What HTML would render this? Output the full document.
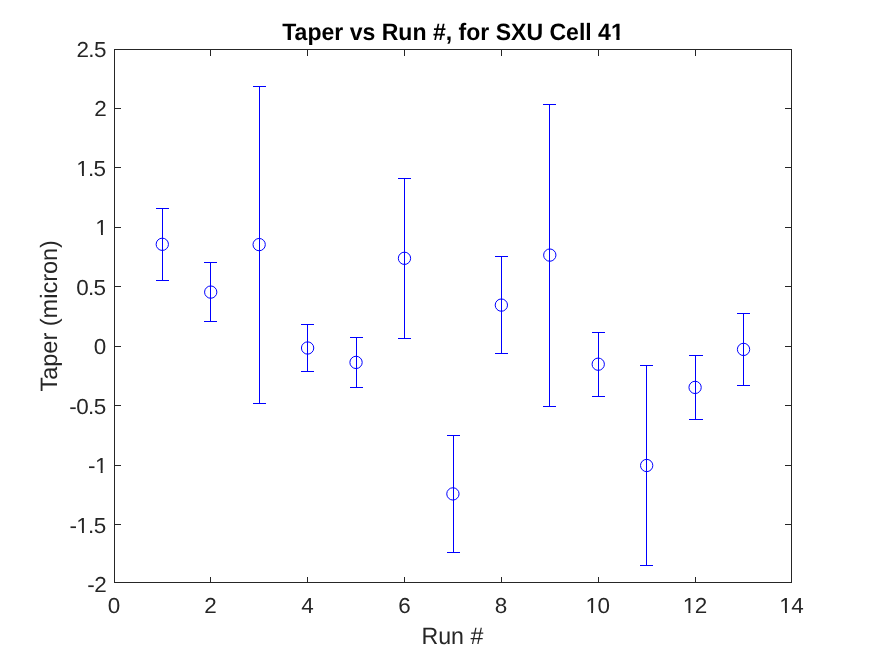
<!DOCTYPE html>
<html><head><meta charset="utf-8"><title>Taper vs Run #</title>
<style>
html,body{margin:0;padding:0;background:#fff;}
body{width:875px;height:656px;overflow:hidden;}
svg{display:block;}
text{font-family:"Liberation Sans",Arial,Helvetica,sans-serif;fill:#262626;text-rendering:geometricPrecision;}
.tt{font-weight:bold;fill:#000;}
</style></head><body>
<svg width="875" height="656" viewBox="0 0 875 656">
<rect width="875" height="656" fill="#fff"/>

<g fill="#262626" shape-rendering="crispEdges">
<rect x="114" y="49" width="678" height="1"/><rect x="114" y="582" width="678" height="1"/>
<rect x="114" y="49" width="1" height="534"/><rect x="791" y="49" width="1" height="534"/>
<rect x="210" y="577" width="1" height="6"/><rect x="210" y="49" width="1" height="7"/>
<rect x="307" y="577" width="1" height="6"/><rect x="307" y="49" width="1" height="7"/>
<rect x="404" y="577" width="1" height="6"/><rect x="404" y="49" width="1" height="7"/>
<rect x="501" y="577" width="1" height="6"/><rect x="501" y="49" width="1" height="7"/>
<rect x="598" y="577" width="1" height="6"/><rect x="598" y="49" width="1" height="7"/>
<rect x="695" y="577" width="1" height="6"/><rect x="695" y="49" width="1" height="7"/>
<rect x="114" y="108" width="7" height="1"/><rect x="785" y="108" width="7" height="1"/>
<rect x="114" y="167" width="7" height="1"/><rect x="785" y="167" width="7" height="1"/>
<rect x="114" y="227" width="7" height="1"/><rect x="785" y="227" width="7" height="1"/>
<rect x="114" y="286" width="7" height="1"/><rect x="785" y="286" width="7" height="1"/>
<rect x="114" y="346" width="7" height="1"/><rect x="785" y="346" width="7" height="1"/>
<rect x="114" y="405" width="7" height="1"/><rect x="785" y="405" width="7" height="1"/>
<rect x="114" y="465" width="7" height="1"/><rect x="785" y="465" width="7" height="1"/>
<rect x="114" y="524" width="7" height="1"/><rect x="785" y="524" width="7" height="1"/>
</g>
<g stroke="#0000ff" stroke-width="1" fill="none">
<path d="M162.5 208.5V280.5M156.0 208.5H169.0M156.0 280.5H169.0" shape-rendering="crispEdges"/>
<circle cx="162.29" cy="244.3" r="6.15"/>
<path d="M210.5 262.5V321.5M204.0 262.5H217.0M204.0 321.5H217.0" shape-rendering="crispEdges"/>
<circle cx="210.72" cy="292.1" r="6.15"/>
<path d="M259.5 86.5V403.5M253.0 86.5H266.0M253.0 403.5H266.0" shape-rendering="crispEdges"/>
<circle cx="259.16" cy="244.6" r="6.15"/>
<path d="M307.5 324.5V371.5M301.0 324.5H314.0M301.0 371.5H314.0" shape-rendering="crispEdges"/>
<circle cx="307.6" cy="348.0" r="6.15"/>
<path d="M356.5 337.5V387.5M350.0 337.5H363.0M350.0 387.5H363.0" shape-rendering="crispEdges"/>
<circle cx="356.04" cy="362.4" r="6.15"/>
<path d="M404.5 178.5V338.5M398.0 178.5H411.0M398.0 338.5H411.0" shape-rendering="crispEdges"/>
<circle cx="404.48" cy="258.3" r="6.15"/>
<path d="M453.5 435.5V552.5M447.0 435.5H460.0M447.0 552.5H460.0" shape-rendering="crispEdges"/>
<circle cx="452.91" cy="493.9" r="6.15"/>
<path d="M501.5 256.5V353.5M495.0 256.5H508.0M495.0 353.5H508.0" shape-rendering="crispEdges"/>
<circle cx="501.35" cy="305.1" r="6.15"/>
<path d="M549.5 104.5V406.5M543.0 104.5H556.0M543.0 406.5H556.0" shape-rendering="crispEdges"/>
<circle cx="549.79" cy="255.1" r="6.15"/>
<path d="M598.5 332.5V396.5M592.0 332.5H605.0M592.0 396.5H605.0" shape-rendering="crispEdges"/>
<circle cx="598.23" cy="364.2" r="6.15"/>
<path d="M646.5 365.5V565.5M640.0 365.5H653.0M640.0 565.5H653.0" shape-rendering="crispEdges"/>
<circle cx="646.66" cy="465.5" r="6.15"/>
<path d="M695.5 355.5V419.5M689.0 355.5H703.0M689.0 419.5H703.0" shape-rendering="crispEdges"/>
<circle cx="695.1" cy="387.4" r="6.15"/>
<path d="M743.5 313.5V385.5M737.0 313.5H750.0M737.0 385.5H750.0" shape-rendering="crispEdges"/>
<circle cx="743.54" cy="349.4" r="6.15"/>
</g>
<text letter-spacing="-0.42" transform="translate(113.78,613.00) scale(1.0800,1.0450)" font-size="20.8" text-anchor="middle">0</text>
<text letter-spacing="-0.42" transform="translate(210.21,613.00) scale(1.0800,1.0450)" font-size="20.8" text-anchor="middle">2</text>
<text letter-spacing="-0.42" transform="translate(307.34,613.00) scale(1.0800,1.0450)" font-size="20.8" text-anchor="middle">4</text>
<text letter-spacing="-0.42" transform="translate(404.19,613.00) scale(1.0800,1.0450)" font-size="20.8" text-anchor="middle">6</text>
<text letter-spacing="-0.42" transform="translate(500.87,613.00) scale(1.0800,1.0450)" font-size="20.8" text-anchor="middle">8</text>
<text letter-spacing="-0.42" transform="translate(597.54,613.00) scale(1.0800,1.0450)" font-size="20.8" text-anchor="middle">10</text>
<text letter-spacing="-0.42" transform="translate(694.82,613.00) scale(1.0800,1.0450)" font-size="20.8" text-anchor="middle">12</text>
<text letter-spacing="-0.42" transform="translate(791.22,613.00) scale(1.0800,1.0450)" font-size="20.8" text-anchor="middle">14</text>
<text letter-spacing="-0.6" transform="translate(105.78,57.00) scale(1.0800,1.0450)" font-size="20.8" text-anchor="end">2.5</text>
<text letter-spacing="-0.42" transform="translate(106.20,116.00) scale(1.0800,1.0450)" font-size="20.8" text-anchor="end">2</text>
<text letter-spacing="-0.6" transform="translate(105.48,176.00) scale(1.0800,1.0450)" font-size="20.8" text-anchor="end">1.5</text>
<text letter-spacing="-0.42" transform="translate(107.22,235.00) scale(1.0800,1.0450)" font-size="20.8" text-anchor="end">1</text>
<text letter-spacing="-0.6" transform="translate(105.48,295.00) scale(1.0800,1.0450)" font-size="20.8" text-anchor="end">0.5</text>
<text letter-spacing="-0.42" transform="translate(105.76,354.00) scale(1.0800,1.0450)" font-size="20.8" text-anchor="end">0</text>
<text letter-spacing="-0.6" transform="translate(105.48,414.00) scale(1.0800,1.0450)" font-size="20.8" text-anchor="end">-0.5</text>
<text letter-spacing="-0.42" transform="translate(106.98,473.00) scale(1.0800,1.0450)" font-size="20.8" text-anchor="end">-1</text>
<text letter-spacing="-0.6" transform="translate(105.55,533.00) scale(1.0800,1.0450)" font-size="20.8" text-anchor="end">-1.5</text>
<text letter-spacing="-0.42" transform="translate(106.20,592.00) scale(1.0800,1.0450)" font-size="20.8" text-anchor="end">-2</text>
<text class="tt" transform="translate(452.97,40.00) scale(1.0067,1.0350)" font-size="22.9" text-anchor="middle">Taper vs Run #, for SXU Cell 41</text>
<text transform="translate(452.36,644.00) scale(1.0124,1.0350)" font-size="22.9" text-anchor="middle">Run #</text>
<text transform="translate(57.00,315.80) rotate(-90) scale(1.0269,1.0350)" font-size="22.9" text-anchor="middle">Taper (micron)</text>
<g fill="#fff"><rect x="586.5" y="610.5" width="4.65" height="3.0"/><rect x="593.0" y="610.5" width="4.5" height="3.0"/><rect x="683.5" y="610.5" width="4.9" height="3.0"/><rect x="690.4" y="610.5" width="5.1" height="3.0"/><rect x="779.5" y="610.5" width="5.5" height="3.0"/><rect x="786.89" y="610.5" width="4.61" height="3.0"/><rect x="76.5" y="173.5" width="5.5" height="3.0"/><rect x="83.89" y="173.5" width="4.61" height="3.0"/><rect x="95.5" y="232.5" width="5.5" height="3.0"/><rect x="102.89" y="232.5" width="4.61" height="3.0"/><rect x="95.5" y="470.5" width="5.14" height="3.0"/><rect x="102.65" y="470.5" width="4.85" height="3.0"/><rect x="76.5" y="530.5" width="5.5" height="3.0"/><rect x="83.89" y="530.5" width="4.61" height="3.0"/><rect x="611.5" y="36.5" width="4.89" height="4.0"/><rect x="619.53" y="36.5" width="4.97" height="4.0"/></g>
</svg></body></html>
